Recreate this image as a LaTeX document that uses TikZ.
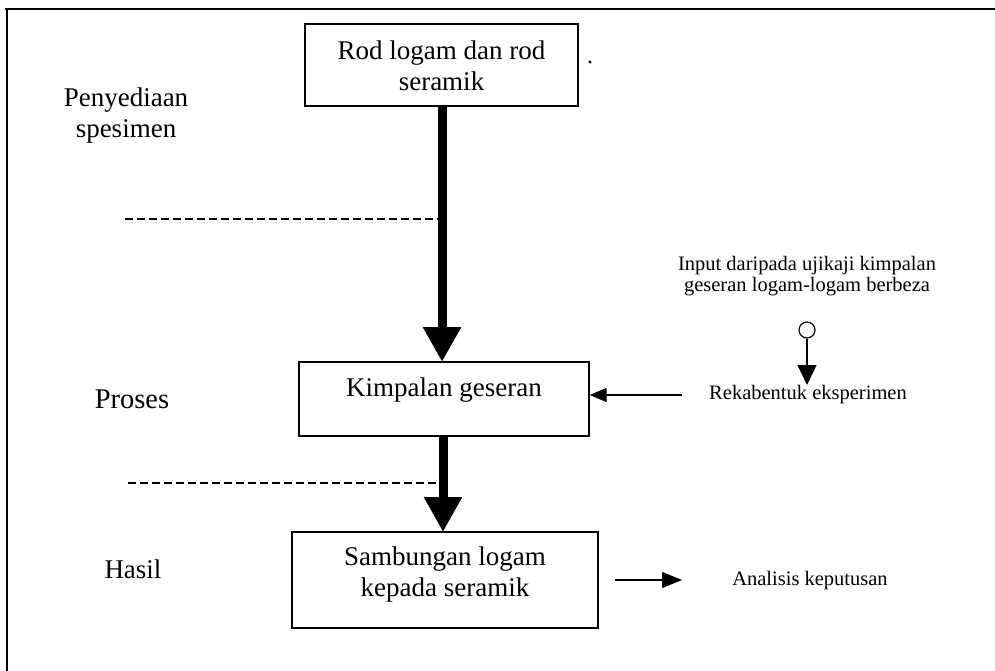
\documentclass[tikz,border=0pt]{standalone}
\usepackage{fontspec}
\setmainfont{Liberation Serif}
\usetikzlibrary{arrows.meta}
\tikzset{
  boxnode/.style={draw, line width=1.3pt, rectangle, inner sep=0pt},
  bigtxt/.style={font=\fontsize{27}{31}\selectfont, align=center, inner sep=0pt},
  smalltxt/.style={font=\fontsize{20.5}{21}\selectfont, align=center, inner sep=0pt},
  thickarrow/.style={line width=9pt, -{Triangle[width=36pt,length=35pt]}},
  thinarrow/.style={line width=1.3pt, -{Triangle[width=14pt,length=17pt]}},
  divider/.style={line width=1.2pt, dash pattern=on 8pt off 4pt},
}
\begin{document}
\begin{tikzpicture}[x=1pt,y=-1pt]
\useasboundingbox (0,0) rectangle (995,671);
% frame
\draw[line width=2pt] (5,9) -- (995,9);
\draw[line width=1.6pt] (7,9) -- (7,671);

% boxes
\node[boxnode, minimum width=273pt, minimum height=82pt] (b1) at (441.5,65) {};
\node[bigtxt] (t1) at (441.5,66) {Rod logam dan rod\\seramik};
\node[boxnode, minimum width=290pt, minimum height=74pt] (b2) at (444,399) {};
\node[bigtxt] (t2) at (444,390) {Kimpalan geseran};
\node[boxnode, minimum width=306pt, minimum height=96pt] (b3) at (445,580) {};
\node[bigtxt] (t3) at (445,575) {Sambungan logam\\kepada seramik};

% stray mark
\fill (590,62) circle (1.6pt);

% left labels
\node[bigtxt] (l1) at (126,116) {Penyediaan\\spesimen};
\node[bigtxt, font=\fontsize{28.5}{31}\selectfont] (l2) at (132,399) {Proses};
\node[bigtxt] (l3) at (133,569) {Hasil};

% thick arrows
\coordinate (a1s) at (442,106);
\coordinate (a1e) at (442,362);
\draw[thickarrow] (a1s) -- (a1e);
\coordinate (a2s) at (443,436);
\coordinate (a2e) at (443,532);
\draw[thickarrow] (a2s) -- (a2e);

% dashed dividers
\coordinate (d1s) at (125,219);
\coordinate (d1e) at (438,219);
\draw[divider] (d1s) -- (d1e);
\coordinate (d2s) at (128,483);
\coordinate (d2e) at (439,483);
\draw[divider] (d2s) -- (d2e);

% right side
\node[smalltxt] (inp) at (807,276) {Input daripada ujikaji kimpalan\\geseran logam-logam berbeza};
\node[draw, line width=1.2pt, circle, minimum size=16pt, inner sep=0pt] (c) at (807,330) {};
\node[smalltxt] (rk) at (808,395) {Rekabentuk eksperimen};
\coordinate (rktip) at (807,385);
\draw[line width=1.2pt, -{Triangle[width=19pt,length=20pt]}] (c.south) -- (rktip);
\coordinate (rkl) at (682,395);
\draw[thinarrow] (rkl) -- (b2.east |- rkl);

\node[smalltxt] (an) at (810,581) {Analisis keputusan};
\coordinate (ans) at (615,580);
\coordinate (ane) at (682,580);
\draw[line width=1.3pt, -{Triangle[width=16pt,length=20pt]}] (ans) -- (ane);
\end{tikzpicture}
\end{document}
